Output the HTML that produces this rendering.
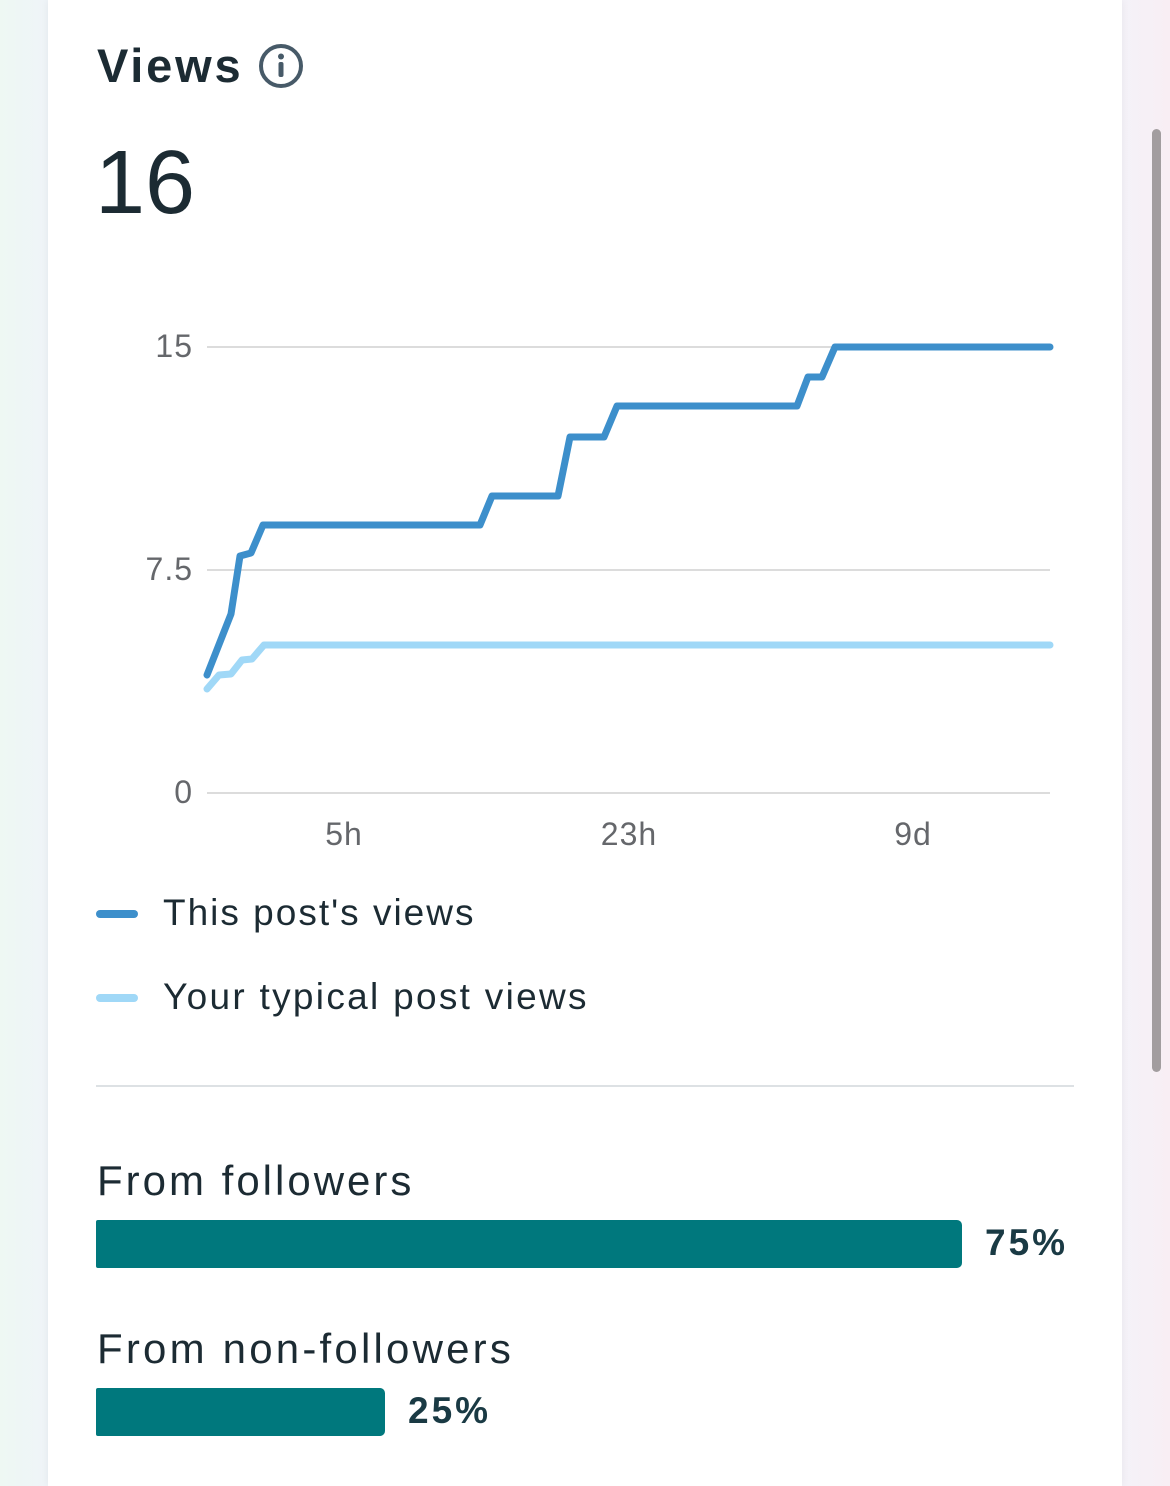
<!DOCTYPE html>
<html><head><meta charset="utf-8"><style>
html,body{margin:0;padding:0;width:1170px;height:1486px;overflow:hidden;font-family:"Liberation Sans",sans-serif;}
body{background:linear-gradient(90deg,#eef8f3 0%,#eff4f8 4%,#f4f2f8 96%,#f8eef4 100%);position:relative;}
.card{position:absolute;left:48px;top:0;width:1074px;height:1486px;background:#fff;box-shadow:0 0 8px rgba(0,0,0,0.06);}
.t{position:absolute;color:#1c2b33;white-space:nowrap;}
.sb{position:absolute;left:1152px;top:129px;width:9px;height:943px;border-radius:5px;background:#a29d9f;}
.bar{position:absolute;background:#00787d;border-radius:2px 5px 5px 2px;}
</style></head><body>
<div class="card"></div>
<div class="sb"></div>
<div class="t" style="left:97px;top:38px;font-size:47px;font-weight:bold;line-height:56px;letter-spacing:2.8px;">Views</div>
<svg style="position:absolute;left:257px;top:43px" width="48" height="48" viewBox="0 0 48 48">
<circle cx="24" cy="23" r="20" fill="none" stroke="#475a68" stroke-width="4"/>
<circle cx="24" cy="13.5" r="3" fill="#475a68"/>
<rect x="21.5" y="19" width="5" height="15" rx="2" fill="#475a68"/></svg>
<div class="t" style="left:95px;top:135px;font-size:90px;line-height:96px;">16</div>
<svg style="position:absolute;left:0;top:0" width="1170" height="880">
<g stroke="#dcdcdc" stroke-width="2">
<line x1="207" y1="347" x2="1050" y2="347"/><line x1="207" y1="570" x2="1050" y2="570"/><line x1="207" y1="793" x2="1050" y2="793"/></g>
<g font-family="Liberation Sans,sans-serif" font-size="32" fill="#65676b" text-anchor="end" letter-spacing="1">
<text x="193" y="357">15</text><text x="193" y="580">7.5</text><text x="193" y="803">0</text></g>
<g font-family="Liberation Sans,sans-serif" font-size="32" fill="#65676b" text-anchor="middle" letter-spacing="1">
<text x="344" y="845">5h</text><text x="629" y="845">23h</text><text x="913" y="845">9d</text></g>
<polyline fill="none" stroke="#a0d8f7" stroke-width="7" stroke-linejoin="round" stroke-linecap="round" points="207,689 219,675 231,674 242,660 252,659 264,645 1050,645"/>
<polyline fill="none" stroke="#3d8fcb" stroke-width="7" stroke-linejoin="round" stroke-linecap="round" points="207,675 231,614 240,556 251,553 263,525 480,525 492,496 558,496 570,437 604,437 617,406 797,406 808,377 822,377 835,347 1050,347"/>
</svg>
<div style="position:absolute;left:96px;top:910px;width:42px;height:8px;border-radius:4px;background:#3d8fcb"></div>
<div class="t" style="left:163px;top:891px;font-size:37px;line-height:44px;letter-spacing:2px;">This post's views</div>
<div style="position:absolute;left:96px;top:994px;width:42px;height:8px;border-radius:4px;background:#a0d8f7"></div>
<div class="t" style="left:163px;top:975px;font-size:37px;line-height:44px;letter-spacing:2.3px;">Your typical post views</div>
<div style="position:absolute;left:96px;top:1085px;width:978px;height:2px;background:#dde1e4"></div>
<div class="t" style="left:97px;top:1156px;font-size:42px;line-height:50px;letter-spacing:3px;">From followers</div>
<div class="bar" style="left:96px;top:1220px;width:866px;height:48px;"></div>
<div class="t" style="left:985px;top:1221px;font-size:37px;font-weight:bold;line-height:44px;color:#1a3a44;letter-spacing:3px;">75%</div>
<div class="t" style="left:97px;top:1324px;font-size:42px;line-height:50px;letter-spacing:3.2px;">From non-followers</div>
<div class="bar" style="left:96px;top:1388px;width:289px;height:48px;"></div>
<div class="t" style="left:408px;top:1389px;font-size:37px;font-weight:bold;line-height:44px;color:#1a3a44;letter-spacing:3px;">25%</div>
</body></html>
